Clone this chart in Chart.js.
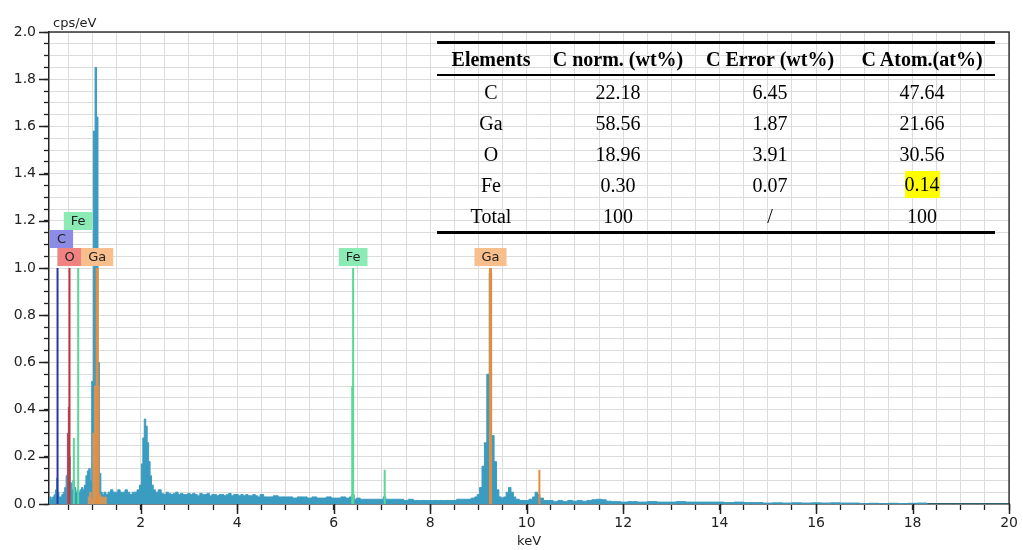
<!DOCTYPE html>
<html>
<head>
<meta charset="utf-8">
<script src="https://cdn.jsdelivr.net/npm/chart.js@4.4.1/dist/chart.umd.min.js"></script>
<style>
  body { margin: 0; background: #fff; }
  #wrap { position: relative; width: 1023px; height: 550px; }
  #eds { position: absolute; left: 0; top: 0; }
  #tbl {
    position: absolute; left: 437px; top: 41px; width: 558px;
    border-collapse: collapse; table-layout: fixed;
    font-family: "Liberation Serif", "Times New Roman", serif; font-size: 20px; color: #000;
  }
  #tbl th { height: 30px; padding: 0; font-weight: bold; border-top: 3px solid #000; border-bottom: 2px solid #000; line-height: 1; }
  #tbl td { height: 31px; padding: 0; text-align: center; line-height: 1; }
  #tbl tr:last-child td { border-bottom: 3px solid #000; }
  .hl { background: #ffff00; display: inline-block; line-height: 27px; }
</style>
</head>
<body>
<div id="wrap">
  <canvas id="eds" width="1023" height="550"></canvas>
  <table id="tbl"></table>
</div>
<script>
// spectrum (keV, cps/eV)
const specEnergy = [0.10, 0.13, 0.16, 0.19, 0.22, 0.25, 0.27, 0.29, 0.32, 0.35, 0.38, 0.41, 0.44, 0.47, 0.49, 0.51, 0.53, 0.55, 0.58, 0.61,
  0.64, 0.67, 0.70, 0.73, 0.76, 0.79, 0.82, 0.85, 0.88, 0.91, 0.94, 0.97, 1.00, 1.04, 1.07, 1.10, 1.13, 1.16, 1.19, 1.22,
  1.26, 1.30, 1.35, 1.40, 1.45, 1.50, 1.55, 1.60, 1.65, 1.70, 1.75, 1.80, 1.85, 1.90, 1.95, 2.00, 2.03, 2.06, 2.09, 2.12,
  2.15, 2.18, 2.21, 2.24, 2.28, 2.33, 2.40, 2.45, 2.50, 2.55, 2.60, 2.65, 2.70, 2.75, 2.80, 2.85, 2.90, 2.95, 3.00, 3.05,
  3.10, 3.15, 3.20, 3.25, 3.30, 3.35, 3.40, 3.45, 3.50, 3.55, 3.60, 3.65, 3.70, 3.75, 3.80, 3.85, 3.90, 3.95, 4.00, 4.05,
  4.10, 4.15, 4.20, 4.25, 4.30, 4.35, 4.40, 4.45, 4.50, 4.60, 4.70, 4.80, 4.90, 5.00, 5.10, 5.20, 5.30, 5.40, 5.50, 5.60,
  5.70, 5.80, 5.90, 6.00, 6.10, 6.20, 6.30, 6.36, 6.40, 6.45, 6.50, 6.60, 6.70, 6.80, 6.90, 7.00, 7.06, 7.10, 7.20, 7.30,
  7.40, 7.50, 7.60, 7.70, 7.80, 7.90, 8.00, 8.10, 8.20, 8.30, 8.40, 8.50, 8.60, 8.70, 8.80, 8.90, 8.95, 9.00, 9.05, 9.10,
  9.15, 9.20, 9.25, 9.30, 9.35, 9.40, 9.45, 9.50, 9.55, 9.60, 9.65, 9.70, 9.75, 9.80, 9.90, 10.00, 10.10, 10.15, 10.20, 10.25,
  10.30, 10.40, 10.50, 10.60, 10.70, 10.80, 10.90, 11.00, 11.10, 11.20, 11.30, 11.40, 11.50, 11.60, 11.70, 11.80, 11.90, 12.00, 12.20, 12.40,
  12.60, 12.80, 13.00, 13.20, 13.40, 13.60, 13.80, 14.00, 14.20, 14.40, 14.60, 14.80, 15.00, 15.20, 15.40, 15.60, 15.80, 16.00, 16.20, 16.40,
  16.60, 16.80, 17.00, 17.20, 17.40, 17.60, 17.80, 18.00, 18.20, 18.40, 20.00];
const specCounts = [0.02, 0.03, 0.02, 0.03, 0.04, 0.06, 0.11, 0.05, 0.03, 0.03, 0.04, 0.05, 0.07, 0.12, 0.30, 0.41, 0.20, 0.09, 0.06, 0.10,
  0.07, 0.05, 0.06, 0.05, 0.06, 0.07, 0.06, 0.08, 0.12, 0.14, 0.15, 0.10, 0.52, 1.58, 1.85, 1.64, 0.60, 0.13, 0.05, 0.04,
  0.05, 0.04, 0.05, 0.06, 0.05, 0.05, 0.06, 0.05, 0.05, 0.06, 0.05, 0.04, 0.05, 0.05, 0.06, 0.08, 0.17, 0.28, 0.36, 0.33,
  0.26, 0.18, 0.12, 0.08, 0.06, 0.05, 0.06, 0.045, 0.04, 0.05, 0.045, 0.04, 0.045, 0.05, 0.04, 0.045, 0.04, 0.04, 0.045, 0.04,
  0.045, 0.04, 0.035, 0.045, 0.04, 0.04, 0.045, 0.035, 0.04, 0.04, 0.035, 0.04, 0.04, 0.035, 0.04, 0.045, 0.035, 0.04, 0.04, 0.035,
  0.04, 0.035, 0.04, 0.035, 0.035, 0.04, 0.035, 0.03, 0.04, 0.03, 0.03, 0.035, 0.03, 0.03, 0.03, 0.025, 0.03, 0.03, 0.025, 0.03,
  0.025, 0.025, 0.03, 0.025, 0.025, 0.03, 0.025, 0.03, 0.04, 0.02, 0.025, 0.02, 0.02, 0.02, 0.02, 0.02, 0.03, 0.02, 0.02, 0.02,
  0.02, 0.015, 0.02, 0.015, 0.015, 0.015, 0.015, 0.015, 0.015, 0.015, 0.015, 0.015, 0.02, 0.02, 0.02, 0.025, 0.03, 0.04, 0.07, 0.16,
  0.26, 0.55, 0.98, 0.29, 0.18, 0.06, 0.03, 0.025, 0.03, 0.05, 0.07, 0.05, 0.03, 0.02, 0.015, 0.015, 0.02, 0.03, 0.05, 0.04,
  0.025, 0.015, 0.015, 0.01, 0.015, 0.01, 0.015, 0.012, 0.015, 0.012, 0.015, 0.018, 0.02, 0.018, 0.012, 0.01, 0.01, 0.008, 0.01, 0.008,
  0.01, 0.008, 0.008, 0.01, 0.008, 0.008, 0.008, 0.008, 0.006, 0.008, 0.006, 0.006, 0.004, 0.005, 0.004, 0.005, 0.004, 0.005, 0.004, 0.005,
  0.004, 0.004, 0.002, 0.003, 0.002, 0.003, 0.002, 0.003, 0.004, 0, 0];

// Ga L fitted part (orange fill under the blue spectrum)
const gaFitEnergy = [0.90, 0.93, 0.96, 0.99, 1.03, 1.06, 1.09, 1.12, 1.15, 1.18, 1.21, 1.24, 1.27, 1.30];
const gaFitCounts = [0.00, 0.03, 0.05, 0.02, 0.30, 0.50, 0.50, 0.50, 0.04, 0.03, 0.03, 0.02, 0.03, 0.00];

// fitted peak sticks
const fitEnergy = [0.495, 0.515, 0.615, 6.385];
const fitTop = [0.30, 0.41, 0.28, 0.50];
const fitColor = ["#a8505f", "#a8505f", "#5ad896", "#5ad896"];

// element marker lines
const markerEnergy = [0.277, 0.525, 0.705, 1.098, 6.404, 7.058, 9.251, 10.264];
const markerTop = [1.0, 1.0, 1.0, 1.0, 1.0, 0.145, 1.0, 0.145];
const markerColor = ["#2a36a8", "#c8323e", "#5ad896", "#e88c3c", "#5ad896", "#5ad896", "#e88c3c", "#e88c3c"];
const markerWidth = [2, 2, 2, 3, 2, 2, 3, 2];

// element tags above the lines
const tagText = ["C", "O", "Fe", "Ga", "Fe", "Ga"];
const tagEnergy = [0.277, 0.525, 0.705, 1.098, 6.404, 9.251];
const tagLevel = [1, 0, 2, 0, 0, 0];
const tagFill = ["#8c8ce6", "#f08282", "#8ceab4", "#f8be8c", "#8ceab4", "#f8be8c"];

// axes
const yMajorTicks = [0, 0.2, 0.4, 0.6, 0.8, 1.0, 1.2, 1.4, 1.6, 1.8, 2.0];
const yTickLabels = ["0.0", "0.2", "0.4", "0.6", "0.8", "1.0", "1.2", "1.4", "1.6", "1.8", "2.0"];
const xMajorTicks = [2, 4, 6, 8, 10, 12, 14, 16, 18, 20];
const xTickLabels = ["2", "4", "6", "8", "10", "12", "14", "16", "18", "20"];

// quantification table
const tableHeaders = ["Elements", "C norm. (wt%)", "C Error (wt%)", "C Atom.(at%)"];
const tableElements = ["C", "Ga", "O", "Fe", "Total"];
const tableNorm = ["22.18", "58.56", "18.96", "0.30", "100"];
const tableError = ["6.45", "1.87", "3.91", "0.07", "/"];
const tableAtom = ["47.64", "21.66", "30.56", "0.14", "100"];
const highlightCell = "0.14";

// build table
const tbl = document.getElementById("tbl");
const colW = [108, 146, 158, 146];
let html = "<colgroup>" + colW.map(w => `<col style="width:${w}px">`).join("") + "</colgroup>";
html += "<tr>" + tableHeaders.map(h => `<th>${h}</th>`).join("") + "</tr>";
tableElements.forEach((el, i) => {
  const atom = tableAtom[i] === highlightCell ? `<span class="hl">${tableAtom[i]}</span>` : tableAtom[i];
  html += `<tr><td>${el}</td><td>${tableNorm[i]}</td><td>${tableError[i]}</td><td>${atom}</td></tr>`;
});
tbl.innerHTML = html;

const datasets = [];
datasets.push({
  data: specEnergy.map((e, i) => ({ x: e, y: specCounts[i] })),
  stepped: "middle", fill: "origin",
  backgroundColor: "#3b9cc2", borderColor: "#3b9cc2", borderWidth: 1,
  pointRadius: 0, order: 4
});
datasets.push({
  data: gaFitEnergy.map((e, i) => ({ x: e, y: gaFitCounts[i] })),
  stepped: "middle", fill: "origin",
  backgroundColor: "rgba(226,150,80,0.9)", borderColor: "rgba(226,150,80,0.9)", borderWidth: 1,
  pointRadius: 0, order: 3
});
fitEnergy.forEach((e, i) => datasets.push({
  data: [{ x: e, y: 0 }, { x: e, y: fitTop[i] }],
  borderColor: fitColor[i], borderWidth: 2, pointRadius: 0, fill: false, order: 2
}));
markerEnergy.forEach((e, i) => datasets.push({
  data: [{ x: e, y: 0 }, { x: e, y: markerTop[i] }],
  borderColor: markerColor[i], borderWidth: markerWidth[i], pointRadius: 0, fill: false, order: 1
}));

const tickFont = { family: "'DejaVu Sans', Verdana, sans-serif", size: 14 };

/* tags, y unit, long major ticks and the frame */
const extras = {
  id: "extras",
  afterDatasetsDraw(chart) {
    const { ctx, chartArea: { left, right, top, bottom }, scales: { x, y } } = chart;
    ctx.save();
    ctx.font = "13px 'DejaVu Sans', Verdana, sans-serif";
    ctx.textAlign = "center";
    ctx.textBaseline = "middle";
    const base = y.getPixelForValue(1.0) - 2;
    tagText.forEach((t, i) => {
      const w = ctx.measureText(t).width + 14;
      const h = 18;
      let bx = x.getPixelForValue(tagEnergy[i]) - w / 2;
      if (bx < left + 1) bx = left + 1;
      const by = base - h - tagLevel[i] * h;
      ctx.fillStyle = tagFill[i];
      ctx.fillRect(bx, by, w, h);
      ctx.fillStyle = "#222";
      ctx.fillText(t, bx + w / 2, by + h / 2 + 1);
    });
    // frame top / right
    ctx.strokeStyle = "#333";
    ctx.lineWidth = 1.5;
    ctx.beginPath();
    ctx.moveTo(left, top);
    ctx.lineTo(right, top);
    ctx.lineTo(right, bottom);
    ctx.stroke();
    // major ticks a bit longer
    ctx.strokeStyle = "#222";
    ctx.lineWidth = 1.5;
    ctx.beginPath();
    yMajorTicks.forEach(v => {
      const py = Math.round(y.getPixelForValue(v)) + 0.5;
      ctx.moveTo(left - 10, py);
      ctx.lineTo(left, py);
    });
    xMajorTicks.forEach(v => {
      const px = Math.round(x.getPixelForValue(v)) + 0.5;
      ctx.moveTo(px, bottom);
      ctx.lineTo(px, bottom + 10);
    });
    ctx.stroke();
    // y unit
    ctx.textAlign = "left";
    ctx.textBaseline = "alphabetic";
    ctx.fillStyle = "#222";
    ctx.fillText("cps/eV", left + 4, top - 5);
    ctx.restore();
  }
};

new Chart(document.getElementById("eds").getContext("2d"), {
  type: "line",
  data: { datasets },
  options: {
    responsive: false,
    animation: false,
    layout: { padding: { top: 32, right: 13, left: 0, bottom: 0 } },
    plugins: { legend: { display: false }, tooltip: { enabled: false } },
    scales: {
      x: {
        type: "linear", min: 0.1, max: 20,
        afterBuildTicks: (s) => {
          const t = [];
          for (let v = 0.5; v <= 20.001; v += 0.5) t.push({ value: Math.round(v * 10) / 10 });
          s.ticks = t;
        },
        afterFit: (s) => { s.height = 46; },
        ticks: {
          autoSkip: false, maxRotation: 0, padding: 5, color: "#222", font: tickFont,
          callback: (v) => {
            const i = xMajorTicks.findIndex(t => Math.abs(t - v) < 1e-6);
            return i >= 0 ? xTickLabels[i] : "";
          }
        },
        grid: { color: "#dcdcdc", lineWidth: 1, tickColor: "#222", tickWidth: 1.3, tickLength: 6 },
        border: { color: "#222", width: 1.5 },
        title: { display: true, text: "keV", color: "#222", font: { family: "'DejaVu Sans', Verdana, sans-serif", size: 13 }, padding: { top: 0, bottom: 1 } }
      },
      y: {
        type: "linear", min: 0, max: 2,
        afterBuildTicks: (s) => {
          const t = [];
          for (let i = 0; i <= 40; i++) t.push({ value: Math.round(i * 5) / 100 });
          s.ticks = t;
        },
        afterFit: (s) => { s.width = 49; },
        ticks: {
          autoSkip: false, padding: 8, color: "#222", font: tickFont,
          callback: (v) => {
            const i = yMajorTicks.findIndex(t => Math.abs(t - v) < 1e-6);
            return i >= 0 ? yTickLabels[i] : "";
          }
        },
        grid: { color: "#dcdcdc", lineWidth: 1, tickColor: "#222", tickWidth: 1.3, tickLength: 5 },
        border: { color: "#222", width: 1.5 }
      }
    }
  },
  plugins: [extras]
});
</script>
</body>
</html>
